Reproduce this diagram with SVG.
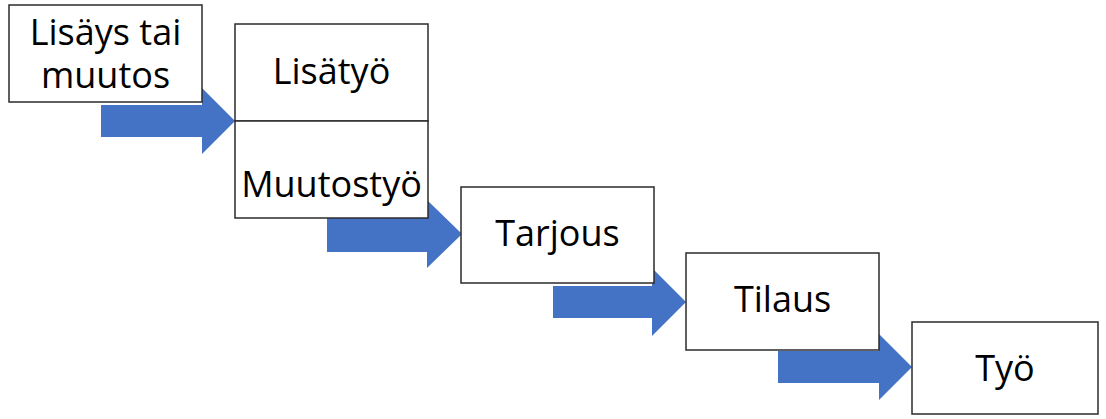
<svg xmlns="http://www.w3.org/2000/svg" width="1106" height="419" viewBox="0 0 1106 419">
<style>
.box{fill:#fff;stroke:#2b2b2b;stroke-width:1.5}
.arr{fill:#4472C4}
.t{font-family:"Open Sans","Liberation Sans",sans-serif;font-size:36px;fill:#000;text-anchor:middle}
</style>
<rect width="1106" height="419" fill="#fff"/>
<g id="connectors">
<polygon class="arr" points="101,105 202,105 202,88 235,121 202,154 202,137 101,137"/>
<polygon class="arr" points="327,216 427,216 427,200 462,234 427,268 427,252 327,252"/>
<polygon class="arr" points="553,286 652,286 652,268 686,302 652,336 652,318 553,318"/>
<polygon class="arr" points="778,351 879,351 879,334 912,367 879,400 879,383 778,383"/>
</g>
<g id="n1"><rect class="box" x="9" y="5" width="193" height="97"/><text class="t" x="105.5" y="45">Lisäys tai</text><text class="t" x="105.5" y="88">muutos</text></g>
<g id="n2"><rect class="box" x="235" y="24" width="193" height="97"/><text class="t" x="331.5" y="84">Lisätyö</text></g>
<g id="n3"><rect class="box" x="235" y="121" width="193" height="97"/><text class="t" x="331.5" y="197">Muutostyö</text></g>
<g id="n4"><rect class="box" x="461" y="187" width="193" height="96"/><text class="t" x="557.5" y="246">Tarjous</text></g>
<g id="n5"><rect class="box" x="686" y="253" width="193" height="97"/><text class="t" x="782.5" y="312">Tilaus</text></g>
<g id="n6"><rect class="box" x="912" y="322" width="186" height="92"/><text class="t" x="1005" y="381">Työ</text></g>
</svg>
